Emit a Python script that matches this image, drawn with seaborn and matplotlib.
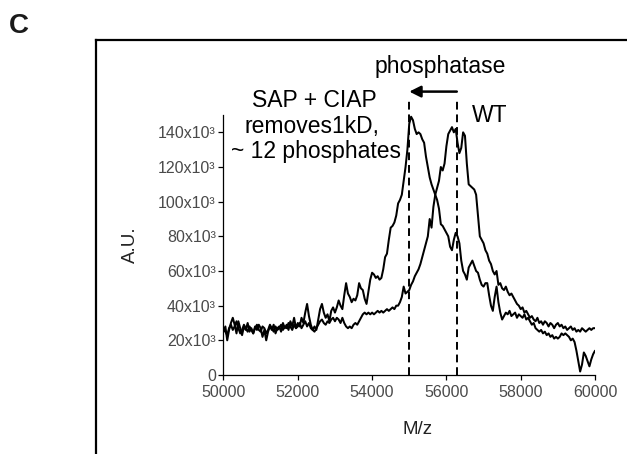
import numpy as np
import pandas as pd
import matplotlib
matplotlib.use("Agg")
import matplotlib.pyplot as plt
from matplotlib.lines import Line2D
import seaborn as sns

# ---- data (intensity in units of 10^3) ----
mz_start, mz_step = 50000, 50
wt = [
    26, 25, 23, 27, 29, 26, 28, 31, 27, 24,
    26, 29, 27, 25, 28, 26, 24, 27, 29, 26,
    25, 28, 27, 24, 26, 29, 27, 25, 28, 26,
    27, 29, 26, 28, 27, 30, 28, 26, 29, 27,
    28, 30, 27, 29, 31, 28, 30, 27, 26, 25,
    27, 29, 31, 32, 30, 29, 31, 30, 32, 33,
    31, 33, 32, 30, 33, 30, 28, 27, 28, 27,
    29, 30, 29, 31, 33, 35, 36, 35, 36, 35,
    36, 35, 36, 37, 36, 37, 36, 37, 38, 37,
    38, 39, 38, 40, 40, 42, 45, 51, 47, 48,
    49, 52, 54, 57, 59, 61, 64, 68, 72, 76,
    80, 90, 85, 97, 104, 108, 112, 120, 118, 122,
    132, 139, 141, 143, 140, 142, 134, 128, 131, 140,
    138, 122, 110, 109, 108, 107, 104, 92, 80, 78,
    76, 72, 70, 66, 64, 60, 58, 60, 52, 53,
    50, 49, 51, 48, 46, 47, 45, 43, 41, 40,
    38, 39, 36, 37, 35, 33, 34, 32, 31, 33,
    30, 31, 29, 31, 30, 28, 30, 29, 27, 29,
    30, 28, 29, 27, 28, 26, 27, 28, 26, 27,
    25, 26, 25, 27, 26, 25, 26, 27, 26, 27,
    27,
]
treated = [
    25, 28, 20, 26, 30, 33, 29, 24, 31, 27,
    23, 28, 26, 30, 25, 27, 24, 28, 26, 29,
    27, 22, 26, 20, 25, 28, 26, 29, 24, 27,
    28, 25, 30, 27, 29, 26, 31, 28, 33, 27,
    30, 28, 33, 30, 36, 41, 34, 29, 26, 28,
    26, 32, 38, 41, 36, 33, 35, 31, 37, 39,
    36, 39, 43, 40, 38, 46, 53, 47, 45, 42,
    44, 43, 46, 53, 50, 49, 44, 41, 48, 55,
    59, 58, 56, 57, 55, 56, 61, 68, 70, 78,
    85, 86, 88, 92, 99, 101, 104, 112, 120, 130,
    145, 149, 147, 142, 139, 140, 139, 136, 134, 126,
    120, 114, 110, 107, 104, 101, 96, 87, 86, 84,
    82, 80, 74, 72, 78, 82, 80, 76, 66, 60,
    58, 55, 62, 64, 66, 63, 60, 59, 55, 52,
    51, 53, 53, 46, 40, 37, 45, 51, 42, 36,
    32, 34, 36, 35, 37, 34, 35, 36, 33, 35,
    34, 33, 35, 32, 33, 31, 29, 30, 27, 26,
    25, 26, 24, 25, 23, 24, 22, 23, 21, 22,
    21, 22, 24, 23, 24, 23, 22, 20, 21, 19,
    14, 8, 2, 6, 13, 11, 8, 5, 9, 12,
    14,
]
mz = np.arange(len(wt)) * mz_step + mz_start
peak_treated = 55000
peak_wt = 56280
x_ticks = [50000, 52000, 54000, 56000, 58000, 60000]
y_ticks = [0, 20, 40, 60, 80, 100, 120, 140]
y_tick_labels = ["0"] + [f"{v}x10\u00b3" for v in y_ticks[1:]]

df = pd.DataFrame({"mz": np.concatenate([mz, mz]),
                   "au": wt + treated,
                   "sample": ["WT"] * len(wt) + ["SAP + CIAP"] * len(treated)})

sns.set_style("white")
plt.rcParams["font.family"] = ["Liberation Sans", "DejaVu Sans"]

fig = plt.figure(figsize=(6.27, 4.54), dpi=100)
ax = fig.add_axes([223.5 / 627, 79 / 454, 371.5 / 627, 260 / 454])

sns.lineplot(data=df, x="mz", y="au", hue="sample", units="sample",
             estimator=None, palette={"WT": "black", "SAP + CIAP": "black"},
             linewidth=1.45, legend=False, ax=ax)

ax.set_xlim(50000, 60000)
ax.set_ylim(0, 150)
ax.set_xticks(x_ticks)
ax.set_xticklabels([str(t) for t in x_ticks])
ax.set_yticks(y_ticks)
ax.set_yticklabels(y_tick_labels)
ax.set_xlabel("")
ax.set_ylabel("")
for s in ["top", "right"]:
    ax.spines[s].set_visible(False)
for s in ["left", "bottom"]:
    ax.spines[s].set_color("black")
    ax.spines[s].set_linewidth(0.9)
ax.tick_params(axis="both", direction="out", length=3.5, width=0.9,
               color="black", labelsize=11.5, labelcolor="#4a4a4a",
               left=True, bottom=True)
ax.tick_params(axis="y", pad=2)
ax.tick_params(axis="x", pad=4)

# dashed guide lines and arrow
ytop = 160
for xv in (peak_treated, peak_wt):
    ax.plot([xv, xv], [0, ytop], color="black", lw=1.4, ls=(0, (4, 2.5)),
            clip_on=False)
ax.annotate("", xy=(peak_treated, 163.5), xytext=(peak_wt, 163.5),
            arrowprops=dict(arrowstyle="-|>", color="black", lw=1.8,
                            mutation_scale=17, shrinkA=0, shrinkB=0),
            annotation_clip=False)

# texts
fs = 16.5
tc = "black"
fig.text(440 / 627, 1 - 73 / 454, "phosphatase", ha="center", va="baseline", fontsize=fs, color=tc)
fig.text(314 / 627, 1 - 107 / 454, "SAP + CIAP", ha="center", va="baseline", fontsize=fs, color=tc)
fig.text(312 / 627, 1 - 133 / 454, "removes1kD,", ha="center", va="baseline", fontsize=fs, color=tc)
fig.text(316 / 627, 1 - 158 / 454, "~ 12 phosphates", ha="center", va="baseline", fontsize=fs, color=tc)
fig.text(490 / 627, 1 - 122 / 454, "WT", ha="center", va="baseline", fontsize=fs, color=tc)

fig.text(130 / 627, 1 - 245 / 454, "A.U.", rotation=90, ha="center", va="center",
         fontsize=13.5, color="#222222")
fig.text(417 / 627, 1 - 430 / 454, "M/z", ha="center", va="center",
         fontsize=13.5, color="#222222")

# panel label and frame
fig.text(9 / 627, 1 - 33 / 454, "C", ha="left", va="baseline", fontsize=20,
         fontweight="bold", color="#1a1a1a")
fx, fy = 96 / 627, 1 - 40 / 454
fig.add_artist(Line2D([fx, fx], [0, fy], transform=fig.transFigure,
                      color="black", lw=1.6, solid_capstyle="projecting"))
fig.add_artist(Line2D([fx, 1], [fy, fy], transform=fig.transFigure,
                      color="black", lw=1.6, solid_capstyle="projecting"))

fig.savefig("out.png", dpi=100)
